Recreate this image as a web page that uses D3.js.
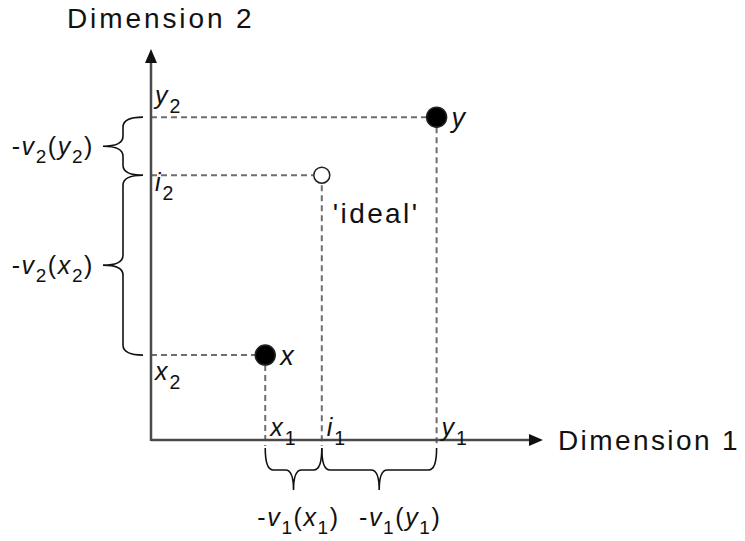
<!DOCTYPE html>
<html>
<head>
<meta charset="utf-8">
<script src="https://cdn.jsdelivr.net/npm/d3@7"></script>
<style>
    body { margin: 0; background: #fff; }
    svg text { font-family: "Liberation Sans", Arial, sans-serif; fill: #111; }
</style>
</head>
<body>
<svg id="SvgContainer"></svg>
<script>
// points in the two dimensions
var pointNames = ["x", "ideal", "y"];
var dim1Values = [2.04, 3.05, 5.1];
var dim2Values = [1.52, 4.74, 5.78];
var pointFilled = [true, false, true];
var pointLabels = ["x", "'ideal'", "y"];

// axis titles
var axisTitles = ["Dimension 1", "Dimension 2"];

// projections on the axes: [variable, index]
var dim1Ticks = [["x", "1"], ["i", "1"], ["y", "1"]];
var dim2Ticks = [["x", "2"], ["i", "2"], ["y", "2"]];

// braces between projections: from point, to point, label
var dim1Braces = [[0, 1, "x"], [1, 2, "y"]];
var dim2Braces = [[0, 1, "x"], [1, 2, "y"]];

var width = 745;
var height = 541;
var axisMax = 7;

var svg = d3.select("svg")
    .attr("width", width)
    .attr("height", height);

var xScale = d3.scaleLinear().domain([0, axisMax]).range([151, 543]);
var yScale = d3.scaleLinear().domain([0, axisMax]).range([440, 49]);

var axisColor = "#4a4a4a";
var dashColor = "#6e6e6e";

// dashed projection lines
svg.selectAll(".hdash")
    .data(pointNames)
    .enter()
    .append("line")
    .attr("x1", xScale(0))
    .attr("x2", function (d, i) { return xScale(dim1Values[i]); })
    .attr("y1", function (d, i) { return yScale(dim2Values[i]); })
    .attr("y2", function (d, i) { return yScale(dim2Values[i]); })
    .attr("stroke", dashColor)
    .attr("stroke-width", 2)
    .attr("stroke-dasharray", "6,4");

svg.selectAll(".vdash")
    .data(pointNames)
    .enter()
    .append("line")
    .attr("x1", function (d, i) { return xScale(dim1Values[i]); })
    .attr("x2", function (d, i) { return xScale(dim1Values[i]); })
    .attr("y1", function (d, i) { return yScale(dim2Values[i]); })
    .attr("y2", yScale(0) + 6)
    .attr("stroke", dashColor)
    .attr("stroke-width", 2)
    .attr("stroke-dasharray", "6,4");

// axes
svg.append("line")
    .attr("x1", xScale(0)).attr("y1", yScale(0))
    .attr("x2", xScale(axisMax) - 10).attr("y2", yScale(0))
    .attr("stroke", axisColor).attr("stroke-width", 2.5);
svg.append("line")
    .attr("x1", xScale(0)).attr("y1", yScale(0) + 1)
    .attr("x2", xScale(0)).attr("y2", yScale(axisMax) + 10)
    .attr("stroke", axisColor).attr("stroke-width", 2.5);

var ax = xScale(axisMax), ay = yScale(0);
svg.append("path")
    .attr("d", "M" + ax + "," + ay + " L" + (ax - 14) + "," + (ay - 6) + " L" + (ax - 14) + "," + (ay + 6) + "Z")
    .attr("fill", "#111");
var ux = xScale(0), uy = yScale(axisMax);
svg.append("path")
    .attr("d", "M" + ux + "," + uy + " L" + (ux - 6) + "," + (uy + 14) + " L" + (ux + 6) + "," + (uy + 14) + "Z")
    .attr("fill", "#111");

svg.append("text")
    .attr("x", xScale(axisMax) + 15)
    .attr("y", yScale(0) + 10)
    .attr("font-size", 28)
    .attr("letter-spacing", 2.4)
    .text(axisTitles[0]);
svg.append("text")
    .attr("x", 67)
    .attr("y", 28)
    .attr("font-size", 28)
    .attr("letter-spacing", 2.9)
    .text(axisTitles[1]);

// points
svg.selectAll(".pt")
    .data(pointNames)
    .enter()
    .append("circle")
    .attr("cx", function (d, i) { return xScale(dim1Values[i]); })
    .attr("cy", function (d, i) { return yScale(dim2Values[i]); })
    .attr("r", function (d, i) { return pointFilled[i] ? 10 : 8; })
    .attr("fill", function (d, i) { return pointFilled[i] ? "#000" : "#fff"; })
    .attr("stroke", "#222")
    .attr("stroke-width", 1.5);

// helper for italic variable with subscript
function varLabel(x, y, v, sub, size) {
    var t = svg.append("text")
        .attr("x", x).attr("y", y)
        .attr("font-size", size);
    t.append("tspan").attr("font-style", "italic").text(v);
    t.append("tspan").attr("font-size", size * 0.78).attr("dx", 2).attr("dy", 9).text(sub);
    return t;
}

// point labels
svg.selectAll(".plabel")
    .data(pointNames)
    .enter()
    .append("text")
    .attr("font-size", function (d, i) { return d == "ideal" ? 28 : 27; })
    .attr("font-style", function (d) { return d == "ideal" ? "normal" : "italic"; })
    .attr("letter-spacing", function (d) { return d == "ideal" ? 2.4 : 0; })
    .attr("x", function (d, i) { return d == "ideal" ? xScale(dim1Values[i]) + 11 : xScale(dim1Values[i]) + 15; })
    .attr("y", function (d, i) { return d == "ideal" ? yScale(dim2Values[i]) + 48 : yScale(dim2Values[i]) + 10; })
    .text(function (d, i) { return pointLabels[i]; });

// projections labels
dim1Ticks.forEach(function (d, i) {
    varLabel(xScale(dim1Values[i]) + 5, yScale(0) - 4, d[0], d[1], 25);
});
dim2Ticks.forEach(function (d, i) {
    varLabel(xScale(0) + 4, yScale(dim2Values[i]) + (i == 1 ? 16 : 25) + (i == 2 ? -38 : 0), d[0], d[1], 25);
});

// braces
function vBrace(x0, y0, y1) {
    var xv = x0 - 20, tip = x0 - 40, mid = (y0 + y1) / 2, r = 10;
    return "M" + x0 + "," + y0 +
        " Q" + xv + "," + y0 + " " + xv + "," + (y0 + r) +
        " L" + xv + "," + (mid - r) +
        " Q" + xv + "," + mid + " " + tip + "," + mid +
        " Q" + xv + "," + mid + " " + xv + "," + (mid + r) +
        " L" + xv + "," + (y1 - r) +
        " Q" + xv + "," + y1 + " " + x0 + "," + y1;
}
function hBrace(x0, x1, y0) {
    var yh = y0 + 22, tip = y0 + 42, mid = (x0 + x1) / 2, r = 8;
    return "M" + x0 + "," + y0 +
        " Q" + x0 + "," + yh + " " + (x0 + r) + "," + yh +
        " L" + (mid - r) + "," + yh +
        " Q" + mid + "," + yh + " " + mid + "," + tip +
        " Q" + mid + "," + yh + " " + (mid + r) + "," + yh +
        " L" + (x1 - r) + "," + yh +
        " Q" + x1 + "," + yh + " " + x1 + "," + y0;
}

function braceLabel(x, y, idx, v, anchor) {
    var t = svg.append("text")
        .attr("x", x).attr("y", y)
        .attr("font-size", 25)
        .attr("letter-spacing", 1.6)
        .attr("text-anchor", anchor);
    t.append("tspan").text("-");
    t.append("tspan").attr("font-style", "italic").text("v");
    t.append("tspan").attr("font-size", 19).attr("dy", 8).text(idx);
    t.append("tspan").attr("dy", -8).text("(");
    t.append("tspan").attr("font-style", "italic").text(v);
    t.append("tspan").attr("font-size", 19).attr("dy", 8).text(idx);
    t.append("tspan").attr("dy", -8).text(")");
}

dim2Braces.forEach(function (b) {
    var ya = yScale(dim2Values[b[0]]), yb = yScale(dim2Values[b[1]]);
    svg.append("path")
        .attr("d", vBrace(xScale(0) - 8, Math.min(ya, yb), Math.max(ya, yb)))
        .attr("fill", "none").attr("stroke", "#111").attr("stroke-width", 1.6);
    braceLabel(94, (ya + yb) / 2 + 9, "2", b[2], "end");
});

var dim1LabelShift = [5, 21];
dim1Braces.forEach(function (b, k) {
    var xa = xScale(dim1Values[b[0]]), xb = xScale(dim1Values[b[1]]);
    svg.append("path")
        .attr("d", hBrace(xa, xb, yScale(0) + 8))
        .attr("fill", "none").attr("stroke", "#111").attr("stroke-width", 1.6);
    braceLabel((xa + xb) / 2 + dim1LabelShift[k], yScale(0) + 86, "1", b[2], "middle");
});
</script>
</body>
</html>
